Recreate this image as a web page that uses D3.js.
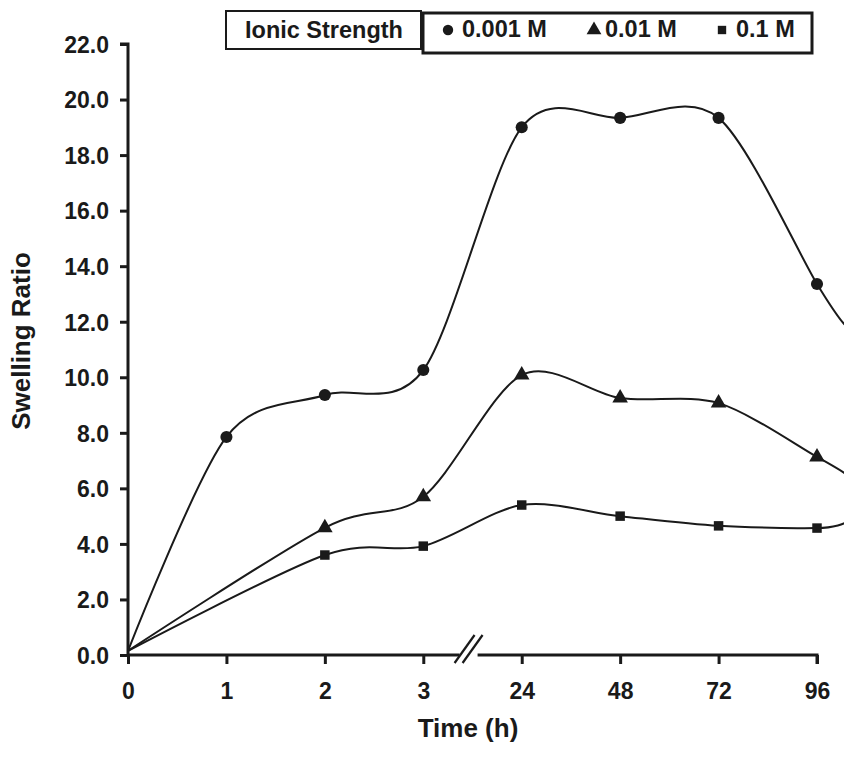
<!DOCTYPE html>
<html>
<head>
<meta charset="utf-8">
<script src="https://cdn.jsdelivr.net/npm/d3@7/dist/d3.min.js"></script>
<style>
  html, body { margin: 0; padding: 0; background: #fff; }
  svg { display: block; }
  text { font-family: "Liberation Sans", Arial, sans-serif; font-weight: bold; fill: #1a1a1a; }
</style>
</head>
<body>
<svg id="chart" width="844" height="761"></svg>
<script>
// Time points (h), evenly spaced on a broken axis
const timeLabels = ["0", "1", "2", "3", "24", "48", "72", "96"];
const yTicks = [0, 2, 4, 6, 8, 10, 12, 14, 16, 18, 20, 22];

// Swelling ratio per ionic strength; null = not measured
const ionic0001 = [0.15, 7.85, 9.36, 10.26, 19.0, 19.34, 19.34, 13.36];
const ionic001  = [0.15, null, 4.58, 5.70, 10.08, 9.25, 9.07, 7.13];
const ionic01   = [0.15, null, 3.60, 3.92, 5.40, 5.00, 4.65, 4.57];

// Where each fitted curve runs off the right edge (position 7.28, unmarked)
const tailPos = 7.28;
const tail0001 = 11.9;
const tail001  = 6.55;
const tail01   = 4.75;

const series = [
  { name: "0.001 M", values: ionic0001, tail: tail0001, shape: "circle" },
  { name: "0.01 M",  values: ionic001,  tail: tail001,  shape: "triangle" },
  { name: "0.1 M",   values: ionic01,   tail: tail01,   shape: "square" }
];

const svg = d3.select("#chart");
const ink = "#1a1a1a";

const x = d3.scaleLinear().domain([0, 7]).range([128, 817]);
const y = d3.scaleLinear().domain([0, 22]).range([655, 44]);

// Fitted curves
const line = d3.line()
  .x(d => x(d[0]))
  .y(d => y(d[1]))
  .curve(d3.curveCardinal.tension(0.1));

series.forEach(s => {
  const pts = s.values.map((v, i) => [i, v]).filter(d => d[1] !== null);
  pts.push([tailPos, s.tail]);
  svg.append("path")
    .attr("d", line(pts))
    .attr("fill", "none")
    .attr("stroke", ink)
    .attr("stroke-width", 2);
});

// Markers
const symbolFor = {
  circle: d3.symbol().type(d3.symbolCircle).size(115),
  triangle: d3.symbol().type(d3.symbolTriangle).size(105),
  square: d3.symbol().type(d3.symbolSquare).size(90)
};
series.forEach(s => {
  s.values.forEach((v, i) => {
    if (v === null || i === 0) return;
    svg.append("path")
      .attr("d", symbolFor[s.shape]())
      .attr("transform", `translate(${x(i)},${y(v)})`)
      .attr("fill", ink);
  });
});

// Y axis
const yAxis = d3.axisLeft(y).tickValues(yTicks).tickFormat(d3.format(".1f")).tickSize(8).tickPadding(11);
const gy = svg.append("g").attr("transform", `translate(${x(0)},0)`).call(yAxis);
gy.select(".domain").attr("stroke", ink).attr("stroke-width", 3).attr("d", `M-8,${y(22)}H0V${y(0)}`);
gy.selectAll(".tick line").attr("stroke", ink).attr("stroke-width", 3);
gy.selectAll(".tick text")
  .attr("dy", "0.36em")
  .style("font-size", "23px").attr("fill", ink);

// X axis with break between 3 h and 24 h
const gx = svg.append("g").attr("transform", `translate(0,${y(0)})`)
  .call(d3.axisBottom(x).tickValues(d3.range(8)).tickFormat(i => timeLabels[i]).tickSize(9));
gx.select(".domain").remove();
gx.selectAll(".tick line").attr("stroke", ink).attr("stroke-width", 3);
gx.selectAll(".tick text")
  .attr("y", 44).attr("dy", null)
  .style("font-size", "23px").attr("fill", ink);

const breakAt = 3.45;
const bx = x(breakAt);
gx.append("path")
  .attr("d", `M${x(0)},0H${bx - 8}M${bx + 10},0H${x(7)}V9`)
  .attr("fill", "none").attr("stroke", ink).attr("stroke-width", 3);
[0, 8].forEach(dx => {
  gx.append("line")
    .attr("x1", bx + dx - 13).attr("y1", 8)
    .attr("x2", bx + dx + 7).attr("y2", -20)
    .attr("stroke", ink).attr("stroke-width", 2.2);
});

// Axis titles
svg.append("text")
  .attr("x", 468).attr("y", 737)
  .attr("text-anchor", "middle")
  .style("font-size", "26px")
  .text("Time (h)");
svg.append("text")
  .attr("transform", "translate(30,341) rotate(-90)")
  .attr("text-anchor", "middle")
  .style("font-size", "26px")
  .text("Swelling Ratio");

// Legend
const lg = svg.append("g");
lg.append("rect").attr("x", 226).attr("y", 11).attr("width", 195).attr("height", 38)
  .attr("fill", "#fff").attr("stroke", ink).attr("stroke-width", 2);
lg.append("rect").attr("x", 423).attr("y", 13).attr("width", 389).attr("height", 40)
  .attr("fill", "#fff").attr("stroke", ink).attr("stroke-width", 3);
lg.append("text").attr("x", 324).attr("y", 38).attr("text-anchor", "middle")
  .style("font-size", "23.5px").text("Ionic Strength");

const legendItems = [
  { s: series[0], mx: 448, tx: 462 },
  { s: series[1], mx: 594, tx: 605 },
  { s: series[2], mx: 722, tx: 736 }
];
const legendSymbol = {
  circle: d3.symbol().type(d3.symbolCircle).size(85),
  triangle: d3.symbol().type(d3.symbolTriangle).size(95),
  square: d3.symbol().type(d3.symbolSquare).size(70)
};
legendItems.forEach(it => {
  lg.append("path").attr("d", legendSymbol[it.s.shape]())
    .attr("transform", `translate(${it.mx},30)`).attr("fill", ink);
  lg.append("text").attr("x", it.tx).attr("y", 37)
    .style("font-size", "23.5px").text(it.s.name);
});
</script>
</body>
</html>
